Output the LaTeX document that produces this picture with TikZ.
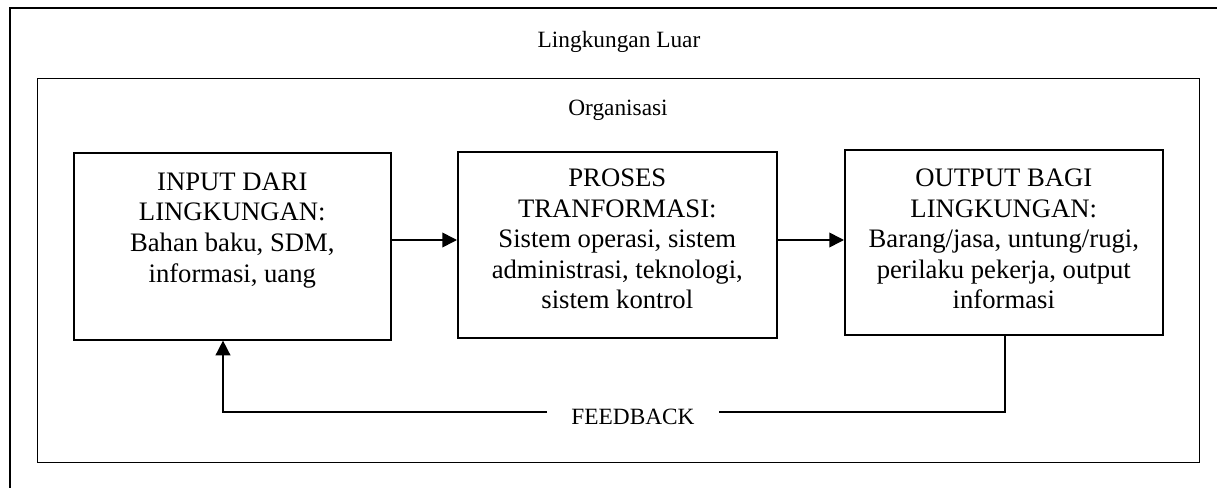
\documentclass[tikz,border=0pt]{standalone}
\usepackage{fontspec}
\setmainfont{Liberation Serif}
\usetikzlibrary{arrows.meta}

\tikzset{
  frame/.style={draw=black, line width=1pt},
  stage/.style={draw=black, line width=1.2pt, rectangle, inner sep=0pt, anchor=north west},
  % anchored at the baseline of the last line
  stagetext/.style={align=center, anchor=base, inner sep=0pt,
    font=\fontsize{20pt}{23pt}\selectfont},
  caption/.style={anchor=base, inner sep=0pt, font=\fontsize{17.5pt}{20pt}\selectfont},
  flow/.style={line width=1.2pt, -{Triangle[length=11pt, width=11pt]}},
  plain/.style={line width=1.2pt}
}

\begin{document}
\begin{tikzpicture}[x=0.75pt, y=-0.75pt]
  \useasboundingbox (0,0) rectangle (1217,488);

  % environment frame (open towards the right and bottom edges)
  \draw[frame] (10,488) |- (1217,8);
  \node[caption] (env) at (619,48) {Lingkungan Luar};

  % organisation frame
  \node[frame, rectangle, inner sep=0pt, minimum width=1162*0.75pt,
        minimum height=384*0.75pt, anchor=north west] (org) at (37,78) {};
  \node[caption] (orgT) at (618,116) {Organisasi};

  % the three stages
  \node[stage, minimum width=317*0.75pt, minimum height=187*0.75pt] (in)   at (73,152)  {};
  \node[stage, minimum width=319*0.75pt, minimum height=186*0.75pt] (proc) at (457,151) {};
  \node[stage, minimum width=318*0.75pt, minimum height=185*0.75pt] (out)  at (844,149) {};

  \node[stagetext] (inT) at (in.north |- 0,282)
    {INPUT DARI\\LINGKUNGAN:\\Bahan baku, SDM,\\informasi, uang};
  \node[stagetext] (procT) at (proc.north |- 0,309)
    {PROSES\\TRANFORMASI:\\Sistem operasi, sistem\\administrasi, teknologi,\\sistem kontrol};
  \node[stagetext] (outT) at (out.north |- 0,309)
    {OUTPUT BAGI\\LINGKUNGAN:\\Barang/jasa, untung/rugi,\\perilaku pekerja, output\\informasi};

  % forward flow
  \coordinate (ay) at (0,240);
  \draw[flow] (in.east |- ay) -- (proc.west |- ay);
  \draw[flow] (proc.east |- ay) -- (out.west |- ay);

  % feedback loop
  \coordinate (fy) at (0,412);
  \coordinate (rx) at (1005,0);
  \coordinate (lx) at (223,0);
  \node[caption, inner xsep=18pt] (fb) at (633,424) {FEEDBACK};
  \draw[plain] (out.south -| rx) |- (fb.east |- fy);
  \draw[flow] (fb.west |- fy) -| (in.south -| lx);
\end{tikzpicture}
\end{document}
